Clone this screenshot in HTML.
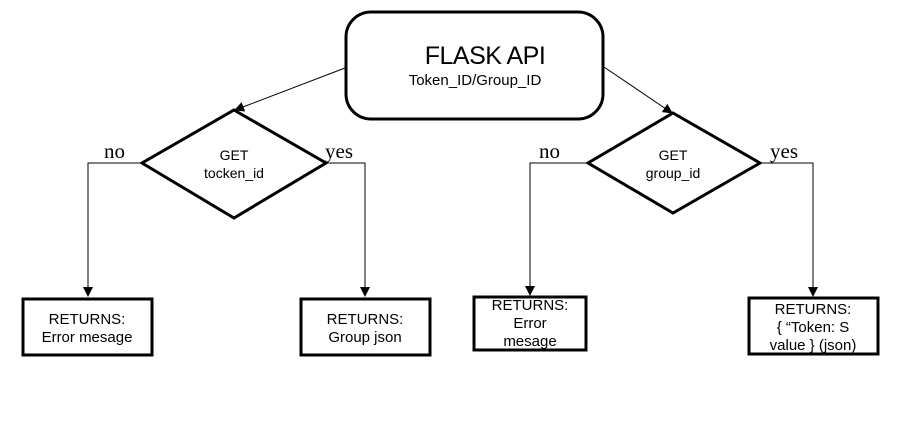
<!DOCTYPE html>
<html><head><style>
html,body{margin:0;padding:0;background:#fff;}
svg{display:block;}
.s{font-family:"Liberation Sans",Arial,sans-serif;fill:#000;}
.r{font-family:"Liberation Serif","Times New Roman",serif;fill:#000;font-size:21px;}
</style></head><body>
<svg width="900" height="428" viewBox="0 0 900 428" xmlns="http://www.w3.org/2000/svg">
<defs><marker id="a" markerWidth="10" markerHeight="10" refX="9" refY="5" orient="auto" markerUnits="userSpaceOnUse"><path d="M0,0 L10,5 L0,10 z" fill="#000"/></marker></defs>
<rect x="346" y="12" width="257" height="107" rx="25" fill="#fff" stroke="#000" stroke-width="3"/>
<text class="s" x="485" y="64" font-size="25" text-anchor="middle" letter-spacing="-0.5">FLASK API</text>
<text class="s" x="475" y="85" font-size="15" text-anchor="middle">Token_ID/Group_ID</text>
<line x1="345" y1="68" x2="235" y2="110" stroke="#000" stroke-width="1" marker-end="url(#a)"/>
<line x1="604" y1="67" x2="672" y2="113" stroke="#000" stroke-width="1" marker-end="url(#a)"/>
<polygon points="234,110 326,163 234,218 142,163" fill="#fff" stroke="#000" stroke-width="3"/>
<text class="s" x="234" y="160" font-size="14" text-anchor="middle">GET</text>
<text class="s" x="234" y="178" font-size="14" text-anchor="middle">tocken_id</text>
<polygon points="673,113 760,163 673,213 588,163" fill="#fff" stroke="#000" stroke-width="3"/>
<text class="s" x="673" y="160" font-size="14" text-anchor="middle">GET</text>
<text class="s" x="673" y="178" font-size="14" text-anchor="middle">group_id</text>
<text class="r" x="104" y="158">no</text>
<text class="r" x="325" y="158">yes</text>
<text class="r" x="539" y="158">no</text>
<text class="r" x="770" y="158">yes</text>
<polyline points="142,163 88,163 88,296" fill="none" stroke="#000" stroke-width="1" marker-end="url(#a)"/>
<polyline points="326,163 365,163 365,296" fill="none" stroke="#000" stroke-width="1" marker-end="url(#a)"/>
<polyline points="588,163 530,163 530,295" fill="none" stroke="#000" stroke-width="1" marker-end="url(#a)"/>
<polyline points="760,163 813,163 813,296" fill="none" stroke="#000" stroke-width="1" marker-end="url(#a)"/>
<rect x="23" y="299" width="129" height="56" fill="#fff" stroke="#000" stroke-width="3"/>
<text class="s" x="87" y="324" font-size="15" text-anchor="middle">RETURNS:</text>
<text class="s" x="87" y="342" font-size="15" text-anchor="middle">Error mesage</text>
<rect x="301" y="299" width="129" height="56" fill="#fff" stroke="#000" stroke-width="3"/>
<text class="s" x="365" y="324" font-size="15" text-anchor="middle">RETURNS:</text>
<text class="s" x="365" y="342" font-size="15" text-anchor="middle">Group json</text>
<rect x="474" y="297" width="112" height="53" fill="#fff" stroke="#000" stroke-width="3"/>
<text class="s" x="530" y="310" font-size="15" text-anchor="middle">RETURNS:</text>
<text class="s" x="530" y="328" font-size="15" text-anchor="middle">Error</text>
<text class="s" x="530" y="346" font-size="15" text-anchor="middle">mesage</text>
<rect x="749" y="298" width="129" height="56" fill="#fff" stroke="#000" stroke-width="3"/>
<text class="s" x="813" y="314" font-size="15" text-anchor="middle">RETURNS:</text>
<text class="s" x="813" y="332" font-size="15" text-anchor="middle">{ “Token: S</text>
<text class="s" x="813" y="350" font-size="15" text-anchor="middle">value } (json)</text>
</svg>
</body></html>
